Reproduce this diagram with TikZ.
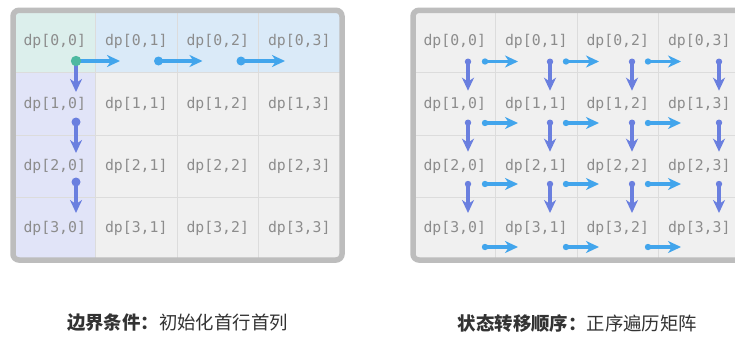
\documentclass[tikz,border=0pt]{standalone}
\usepackage{fontspec}
\setmonofont{DejaVu Sans Mono}
\newfontfamily\cjk{Noto Sans CJK SC}
\usetikzlibrary{arrows.meta}
\definecolor{cTeal}{HTML}{DCEFEC}
\definecolor{cBlue}{HTML}{DAEAF8}
\definecolor{cLav}{HTML}{E1E4F8}
\definecolor{cGray}{HTML}{F0F0F0}
\definecolor{cGrid}{HTML}{DCDCDC}
\definecolor{cText}{HTML}{8C8C8C}
\definecolor{cBorder}{HTML}{BDBDBD}
\definecolor{cH}{HTML}{42A5EC}
\definecolor{cV}{HTML}{6A7FDF}
\definecolor{cGreen}{HTML}{4DB9A0}
\definecolor{cTitle}{HTML}{333333}
\begin{document}
\begin{tikzpicture}[x=1pt,y=-1pt,
  cell/.style={draw=cGrid, line width=0.8pt, minimum width=81.5pt, minimum height=62.3pt,
    inner sep=0pt, text=cText, font=\ttfamily\fontsize{14.8}{14.8}\selectfont},
  panel/.style={draw=cBorder, line width=5.5pt, rounded corners=6pt},
  harrow/.style={draw=cH, line width=3.2pt, -{Stealth[length=13pt,width=12pt,inset=4pt]}},
  varrow/.style={draw=cV, line width=3.2pt, -{Stealth[length=13pt,width=12pt,inset=4pt]}},
  title/.style={text=cTitle, font=\cjk\fontsize{18.4}{18.4}\selectfont, inner sep=0pt}]
\useasboundingbox (0,0) rectangle (735,337);
\clip (0,0) rectangle (735,337);
\fill[white] (0,0) rectangle (735,337);
% cells
\foreach \i in {0,...,3}{\foreach \j in {0,...,3}{
  \ifnum\i=0 \ifnum\j=0 \def\cc{cTeal}\else\def\cc{cBlue}\fi\else\ifnum\j=0 \def\cc{cLav}\else\def\cc{cGray}\fi\fi
  \node[cell, fill=\cc] (L\i\j) at ({54.75+81.5*\j},{41.65+62.3*\i}) {dp[\i,\j]};
  \node[cell, fill=cGray] (R\i\j) at ({454.75+81.5*\j},{41.65+62.3*\i}) {dp[\i,\j]};
}}
% panel borders
\draw[panel] (13,10.3) rectangle (342,260);
\draw[panel] (413,10.3) rectangle (742,260);
% left panel: boundary conditions
\foreach \i/\y in {0/61,1/122,2/182}{
  \coordinate (Lvs\i) at (76,\y);
  \coordinate (Lve\i) at (76,\y+31);
  \draw[varrow] (Lvs\i) -- (Lve\i);
  \ifnum\i>0 \fill[cV] (Lvs\i) circle (4.5pt);\fi
}
\foreach \j in {0,1,2}{
  \coordinate (Lhs\j) at ({76+82.5*\j},61);
  \coordinate (Lhe\j) at ({120+82.5*\j},61);
  \draw[harrow] (Lhs\j) -- (Lhe\j);
  \ifnum\j>0 \fill[cH] (Lhs\j) circle (4.5pt);\fi
}
\fill[cGreen] (Lhs0) circle (5.2pt);
% right panel: traversal order
\foreach \i/\y in {0/61.7,1/122.7,2/184}{
  \foreach \j/\x in {0/468,1/550,2/632,3/719}{
    \coordinate (Rvs\i\j) at (\x,\y);
    \coordinate (Rve\i\j) at (\x,\y+29);
    \draw[varrow] (Rvs\i\j) -- (Rve\i\j);
    \fill[cV] (Rvs\i\j) circle (3.2pt);
  }
}
\foreach \i/\y in {0/61.5,1/123,2/184,3/247}{
  \foreach \j/\x in {0/485,1/566,2/648}{
    \coordinate (Rhs\i\j) at (\x,\y);
    \coordinate (Rhe\i\j) at (\x+33,\y);
    \draw[harrow] (Rhs\i\j) -- (Rhe\i\j);
    \fill[cH] (Rhs\i\j) circle (3.2pt);
  }
}
% titles
\node[title] (t1) at (177.5,323) {{\bfseries 边界条件：}初始化首行首列};
\node[title] (t2) at (577.5,323) {{\bfseries 状态转移顺序：}正序遍历矩阵};
\end{tikzpicture}
\end{document}
